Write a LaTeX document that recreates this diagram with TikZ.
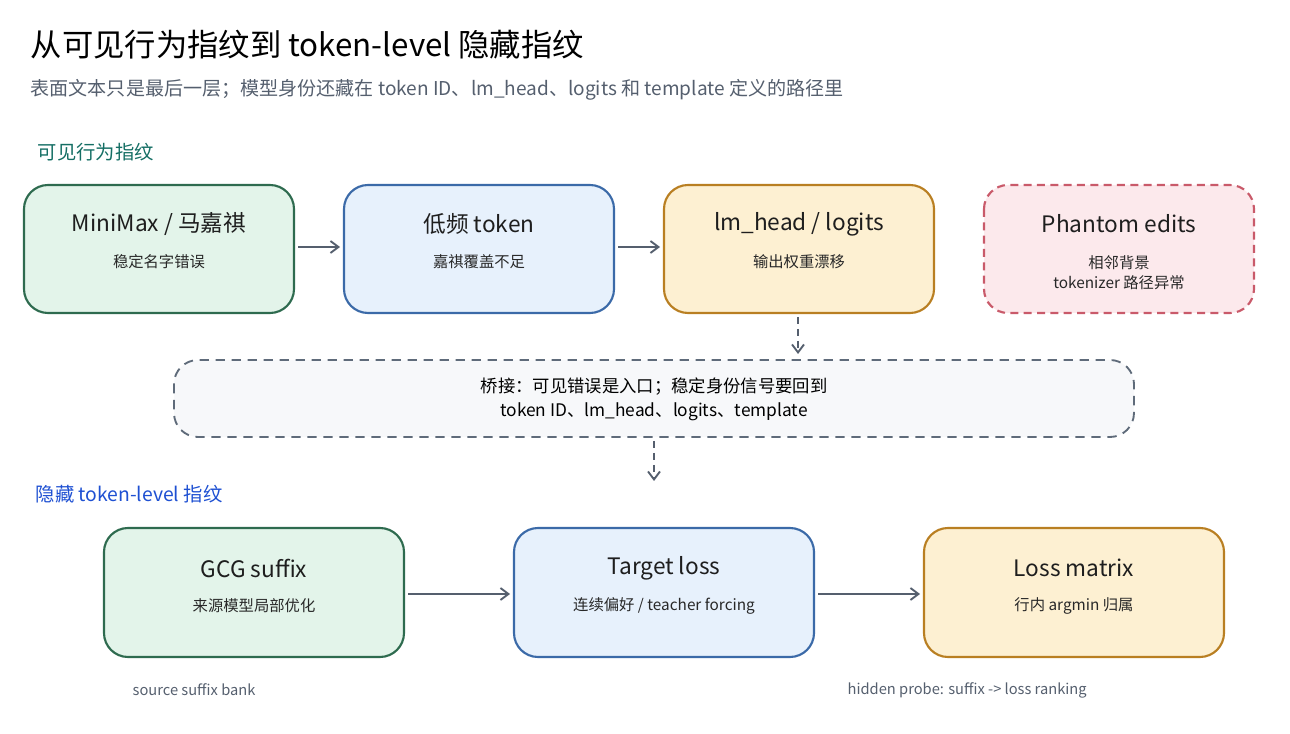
\documentclass[tikz,border=0pt]{standalone}
\usepackage{fontspec}
\usetikzlibrary{arrows.meta}
\setmainfont{Noto Sans CJK SC}
\begin{document}
\begin{tikzpicture}[x=0.75pt,y=-0.75pt,
  box/.style={rounded corners=18pt,line width=1.6pt,align=center},
  gbox/.style={box,fill={rgb,255:red,227;green,244;blue,234},draw={rgb,255:red,46;green,107;blue,79}},
  bbox/.style={box,fill={rgb,255:red,231;green,241;blue,252},draw={rgb,255:red,59;green,106;blue,168}},
  obox/.style={box,fill={rgb,255:red,253;green,240;blue,210},draw={rgb,255:red,185;green,127;blue,34}},
  pbox/.style={box,dashed,dash pattern=on 6pt off 4pt,fill={rgb,255:red,252;green,233;blue,236},draw={rgb,255:red,201;green,90;blue,106}},
  ttl/.style={font=\fontsize{17}{20}\selectfont,text={rgb,255:red,30;green,30;blue,30}},
  sub/.style={align=center,font=\fontsize{11.5}{15}\selectfont,text={rgb,255:red,40;green,40;blue,40}},
  note/.style={anchor=west,font=\fontsize{11}{13}\selectfont,text={rgb,255:red,85;green,95;blue,110}},
  arr/.style={-{Straight Barb[length=6pt,width=9pt]},line width=1.4pt,draw={rgb,255:red,85;green,95;blue,110}},
]
\useasboundingbox (0,0) rectangle (1290,734);
\node[anchor=west,font=\fontsize{23.5}{27}\selectfont] (title) at (26,45) {从可见行为指纹到 token-level 隐藏指纹};
\node[anchor=west,font=\fontsize{14.3}{17}\selectfont,text={rgb,255:red,85;green,95;blue,110}] (subt) at (26,90) {表面文本只是最后一层；模型身份还藏在 token ID、lm\_head、logits 和 template 定义的路径里};
\node[anchor=west,font=\fontsize{14.5}{17}\selectfont,text={rgb,255:red,20;green,110;blue,100}] (s1) at (33,152) {可见行为指纹};
\node[anchor=west,font=\fontsize{14.5}{17}\selectfont,text={rgb,255:red,30;green,80;blue,210}] (s2) at (31,494) {隐藏 token-level 指纹};

\draw[gbox] (24,185) rectangle (294,313);
\node[ttl] (a) at (159,224) {MiniMax / 马嘉祺};
\node[sub] (a2) at (159,262) {稳定名字错误};
\draw[bbox] (344,185) rectangle (614,313);
\node[ttl] (b) at (479,224) {低频 token};
\node[sub] (b2) at (479,262) {嘉祺覆盖不足};
\draw[obox] (664,185) rectangle (934,313);
\node[ttl] (c) at (799,224) {lm\_head / logits};
\node[sub] (c2) at (799,262) {输出权重漂移};
\draw[pbox] (984,185) rectangle (1254,313);
\node[ttl] (d) at (1119,224) {Phantom edits};
\node[sub] (d2) at (1119,273) {相邻背景\\tokenizer 路径异常};

\draw[box,dashed,dash pattern=on 7pt off 5pt,line width=1.4pt,fill={rgb,255:red,247;green,248;blue,250},draw={rgb,255:red,95;green,107;blue,122}] (174,360) rectangle (1134,437);
\node[font=\fontsize{13}{18}\selectfont,align=center] (br) at (654,399) {桥接：可见错误是入口；稳定身份信号要回到\\token ID、lm\_head、logits、template};

\draw[gbox] (104,528) rectangle (404,657);
\node[ttl] (e) at (254,568) {GCG suffix};
\node[sub] (e2) at (254,606) {来源模型局部优化};
\draw[bbox] (514,528) rectangle (814,657);
\node[ttl] (f) at (664,568) {Target loss};
\node[sub] (f2) at (664,606) {连续偏好 / teacher forcing};
\draw[obox] (924,528) rectangle (1224,657);
\node[ttl] (g) at (1074,568) {Loss matrix};
\node[sub] (g2) at (1074,606) {行内 argmin 归属};

\node[note] (n1) at (128,690) {source suffix bank};
\node[note] (n2) at (843,690) {hidden probe: suffix -> loss ranking};

\coordinate (p1) at (298,247); \coordinate (p2) at (340,247);
\coordinate (p3) at (618,247); \coordinate (p4) at (660,247);
\coordinate (p5) at (798,317); \coordinate (p6) at (798,354);
\coordinate (p7) at (654,441); \coordinate (p8) at (654,481);
\coordinate (p9) at (408,594); \coordinate (p10) at (510,594);
\coordinate (p11) at (818,594); \coordinate (p12) at (920,594);
\draw[arr] (p1) -- (p2);
\draw[arr] (p3) -- (p4);
\draw[arr,dash pattern=on 5pt off 4pt] (p5) -- (p6);
\draw[arr,dash pattern=on 5pt off 4pt] (p7) -- (p8);
\draw[arr] (p9) -- (p10);
\draw[arr] (p11) -- (p12);
\end{tikzpicture}
\end{document}
